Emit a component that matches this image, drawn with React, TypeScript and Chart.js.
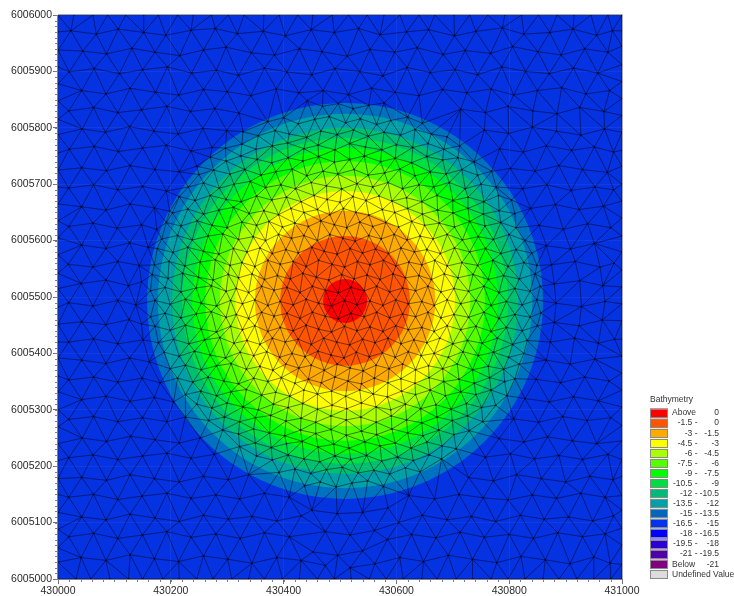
import React, { useEffect, useRef } from "react";
import { Chart, registerables, BubbleController } from "chart.js";

Chart.register(...registerables);

// filled depth contours: the discs stay inside the plot, so they need no layout padding
class ContourBubble extends BubbleController {
  static id = "contourBubble";
  static defaults = { ...(BubbleController as any).defaults };
  static overrides = (BubbleController as any).overrides;
  getMaxOverflow() {
    return false as any;
  }
}
Chart.register(ContourBubble as any);

const originEast = 430000;
const originNorth = 6005000;
const xTickStep = 200;
const yTickStep = 100;
const xMinorStep = 20;
const yMinorStep = 10;

const moundEast = 430509;
const moundNorth = 6005493;
const surroundColour = "#0533e2";
const plotSide = 564;
// outermost first: outer radius of each depth band, metres
const bandRadius = [351, 332, 307, 289, 271, 248, 222, 195, 160, 115, 39];
const bandColour = ["#0070c0", "#00a0a8", "#00c070", "#00e044", "#00ff00", "#55ff00", "#aaff00", "#ffff00", "#ffaa00", "#ff5500", "#ff0000"];

const legendTitle = "Bathymetry";
const legendFrom = ["Above", "-1.5 -", "-3 -", "-4.5 -", "-6 -", "-7.5 -", "-9 -", "-10.5 -", "-12 -", "-13.5 -", "-15 -", "-16.5 -", "-18 -", "-19.5 -", "-21 -", "Below", "Undefined Value"];
const legendTo = ["0", "0", "-1.5", "-3", "-4.5", "-6", "-7.5", "-9", "-10.5", "-12", "-13.5", "-15", "-16.5", "-18", "-19.5", "-21", ""];
const legendColour = ["#ff0000", "#ff5500", "#ffaa00", "#ffff00", "#aaff00", "#55ff00", "#00ff00", "#00dd44", "#00bb77", "#00a0a8", "#0066c0", "#0033ee", "#0000ff", "#2a00d0", "#5000aa", "#800080", "#dcdcdc"];

// boundary nodes along each side, metres from the corner
const edgeTop = [0, 28, 62, 88, 120, 152, 178, 212, 240, 272, 302, 330, 365, 392, 425, 452, 486, 515, 548, 578, 606, 640, 668, 702, 730, 762, 792, 822, 852, 885, 915, 945, 975, 1000];
const edgeBottom = [0, 32, 58, 92, 125, 150, 186, 215, 246, 275, 308, 338, 366, 398, 428, 460, 490, 520, 552, 582, 612, 645, 672, 706, 735, 768, 798, 828, 860, 888, 920, 950, 980, 1000];
const edgeLeft = [30, 55, 88, 118, 150, 178, 210, 240, 270, 300, 332, 360, 392, 420, 452, 482, 515, 542, 575, 605, 635, 665, 695, 725, 755, 788, 815, 848, 878, 908, 938, 970];
const edgeRight = [26, 60, 90, 122, 148, 182, 212, 245, 272, 305, 335, 365, 395, 425, 458, 488, 518, 548, 580, 608, 640, 670, 700, 732, 760, 792, 822, 852, 882, 912, 945, 972];

// interior mesh nodes as east,north pairs, metres from the lower-left corner
const meshOuter = [
23,972,68,966,107,975,152,969,191,964,236,973,279,976,318,967,364,971,403,963,449,974,490,969,533,976,571,965,618,970,657,974,703,963,741,971,788,977,826,966,872,969,913,975,955,964,983,972,
44,936,86,931,131,941,172,934,216,928,258,938,298,943,343,933,384,929,428,940,468,935,513,927,553,939,597,934,637,942,683,930,722,937,767,932,806,944,851,935,892,929,934,940,975,934,
20,899,64,905,109,896,150,903,194,908,237,897,281,902,320,893,366,906,406,899,450,894,491,905,535,900,576,892,619,907,660,898,704,903,744,894,787,908,829,900,871,896,914,906,957,897,
42,866,85,860,128,870,173,863,214,858,258,868,300,864,342,857,387,869,427,862,470,866,515,859,556,870,598,863,640,857,682,868,725,862,768,869,808,858,850,866,893,871,936,860,978,866,
19,830,63,836,106,827,148,832,193,838,235,829,278,834,321,826,714,833,758,827,798,838,842,830,885,825,925,836,968,829,
43,798,84,792,127,802,170,794,213,789,257,799,299,795,756,796,799,790,841,801,884,794,927,787,969,798,
20,762,64,767,107,758,150,764,192,769,236,759,273,765,783,763,825,757,866,768,911,760,951,766,985,757,
42,729,86,724,128,733,172,726,215,722,246,732,802,728,846,723,888,733,930,726,974,721,
19,693,63,699,106,690,150,696,192,688,824,692,867,699,910,689,952,695,985,690,
42,660,85,654,128,665,171,658,198,652,838,657,882,664,924,655,967,661,
19,625,62,631,105,622,148,628,175,620,853,627,896,620,939,630,980,623,
42,592,85,586,127,596,160,588,866,591,909,585,951,595,
18,558,62,553,106,563,144,556,875,557,917,563,961,553,986,560,
41,524,85,530,125,520,148,527,880,523,925,529,966,520,
19,490,62,484,106,494,138,486,883,489,928,483,970,492,
42,456,85,451,126,460,148,452,880,455,924,449,965,459,
19,420,63,426,106,417,151,424,873,420,916,427,958,418,987,425,
42,388,85,382,127,392,162,385,866,388,908,381,952,390,
19,353,63,358,106,349,149,356,181,348,848,354,891,348,934,358,977,351,
42,318,85,324,128,315,171,322,205,314,828,320,871,314,914,323,958,316,
19,283,63,288,106,279,150,286,193,279,226,287,808,284,852,278,895,288,938,281,980,286,
43,250,86,244,129,253,172,247,215,241,252,250,782,249,826,243,868,252,912,245,955,240,
19,215,62,220,106,212,150,218,193,223,236,214,277,221,758,216,802,222,845,213,888,219,930,212,975,221,
42,180,86,175,128,185,171,178,215,172,258,182,302,176,338,185,728,180,772,174,813,185,857,178,900,172,943,182,984,176,
19,145,63,150,106,141,149,147,193,152,236,143,280,149,322,142,366,152,410,145,450,122,495,116,540,118,585,126,622,148,668,142,711,150,754,144,798,140,841,149,884,143,927,152,970,145,
42,110,85,105,128,115,172,108,215,102,258,113,302,106,344,111,388,103,431,112,474,84,518,78,561,86,604,100,646,113,690,105,733,111,776,102,820,113,862,106,905,110,948,103,985,112,
19,75,63,81,106,72,150,78,193,84,236,74,280,80,323,72,366,82,410,75,452,48,496,42,540,50,584,70,627,79,670,73,713,83,756,74,800,79,843,72,886,82,930,75,970,80,
41,38,85,33,128,43,171,36,214,31,258,41,301,35,344,28,388,38,431,33,474,24,518,20,562,27,606,38,648,31,692,42,735,35,778,29,821,40,864,34,908,27,950,39,979,28,
];

const meshInner = [
442,848,469,838,497,843,523,834,551,840,578,844,
372,811,400,818,426,807,455,815,481,820,510,809,536,816,565,806,590,813,620,819,646,808,
328,793,355,786,385,795,410,789,441,783,466,794,495,788,524,796,550,785,578,792,607,787,633,797,662,789,690,784,
297,764,326,771,351,762,380,768,407,773,436,763,461,769,491,761,517,772,545,766,574,761,600,770,629,765,656,772,684,762,712,768,
270,748,298,741,324,750,353,744,379,738,408,747,434,741,462,749,490,739,517,744,543,750,572,740,598,746,627,738,654,749,682,743,709,747,738,740,
250,717,276,725,305,718,331,726,360,716,386,722,415,727,441,715,470,723,496,718,525,726,550,716,579,720,606,727,633,715,660,722,688,718,716,726,744,716,769,723,
231,695,258,702,286,693,312,700,341,705,368,694,395,699,421,692,449,703,476,697,503,692,530,701,558,695,585,703,611,692,640,699,666,695,694,703,722,692,750,700,777,695,
215,678,243,671,270,680,298,673,325,669,352,679,379,672,405,677,431,669,454,680,477,673,500,668,523,678,546,671,569,679,592,670,618,676,645,669,672,680,700,671,727,677,755,669,781,680,804,672,
203,649,230,656,258,647,285,654,311,659,339,648,365,653,391,646,413,657,436,650,460,655,482,646,506,657,528,650,551,645,575,655,597,650,620,657,646,647,673,654,700,649,727,657,754,647,782,653,810,648,
192,632,218,626,247,635,273,627,300,623,326,633,352,627,374,634,398,624,420,631,444,625,466,635,490,628,512,623,535,633,558,625,581,632,604,624,627,634,650,627,676,631,703,624,730,634,757,626,785,632,812,623,
184,603,212,609,238,601,266,608,292,612,320,602,346,607,368,600,391,611,414,604,436,609,460,600,482,611,505,604,527,599,551,609,573,603,596,611,619,601,642,608,665,603,690,611,717,601,745,607,772,602,800,611,828,600,
176,586,204,579,230,588,258,581,285,576,311,586,335,580,358,587,380,577,404,584,426,578,450,588,472,581,495,576,518,586,540,578,563,585,586,577,608,587,632,580,654,584,678,577,703,587,730,580,758,586,785,577,812,584,840,578,
171,557,197,563,225,555,252,562,279,566,305,556,326,561,349,554,372,565,394,558,417,563,440,554,462,565,486,558,508,553,531,563,553,557,577,565,599,555,622,562,645,557,668,565,690,555,716,561,744,556,771,565,798,554,826,561,849,556,
167,540,195,533,221,542,249,535,275,530,302,540,320,534,344,541,366,531,389,538,412,532,434,542,458,535,480,530,503,540,525,532,548,539,571,531,594,541,616,534,640,538,662,531,685,541,709,534,736,540,763,531,790,538,818,532,846,541,
164,511,190,517,218,509,245,516,272,520,298,510,316,515,338,508,361,519,383,512,406,517,429,508,451,519,474,512,497,507,519,517,543,511,565,519,588,509,611,516,634,511,656,519,679,509,702,515,728,510,755,519,782,508,810,515,837,510,855,519,
172,494,199,487,226,496,254,489,281,484,306,494,327,488,349,495,372,485,394,492,417,486,440,496,462,489,485,484,508,494,530,486,553,493,576,485,599,495,621,488,645,492,667,485,690,495,714,488,741,494,768,485,795,492,823,486,849,495,
164,465,190,471,218,463,245,470,272,474,298,464,316,469,338,462,361,473,383,466,406,471,429,462,451,473,474,466,497,461,519,471,543,465,565,473,588,463,611,470,634,465,656,473,679,463,702,469,728,464,755,473,782,462,810,469,837,464,856,472,
172,448,199,441,226,450,254,443,281,438,306,448,327,442,349,449,372,439,394,446,417,440,440,450,462,443,485,438,508,448,530,440,553,447,576,439,599,449,621,442,645,446,667,439,690,449,714,442,741,448,768,439,795,446,823,440,850,449,
178,419,205,425,232,417,260,424,287,428,312,418,335,423,358,416,380,427,403,420,426,425,449,416,471,427,494,420,517,415,540,425,562,419,585,427,608,417,631,424,654,419,677,427,700,417,726,423,752,418,779,427,806,416,832,423,
188,402,215,395,242,404,270,397,297,392,323,402,347,396,370,403,393,393,415,400,438,394,461,404,484,397,507,392,529,402,552,394,575,401,598,393,621,403,644,396,667,400,692,393,718,403,745,396,772,402,799,393,826,400,
199,373,226,379,254,371,281,378,307,382,334,372,358,377,381,370,404,381,427,374,449,379,472,370,495,381,518,374,541,369,564,379,587,373,611,381,634,371,657,378,682,373,708,381,735,371,763,377,790,372,818,381,
212,356,239,349,266,358,294,351,320,346,347,356,372,350,396,357,420,347,444,354,467,348,491,358,514,351,538,346,561,356,585,348,608,355,633,347,658,357,684,350,711,354,738,347,765,357,792,350,810,355,
226,327,253,333,281,325,307,332,334,336,361,326,386,331,411,324,436,335,460,328,485,333,510,324,535,335,559,328,584,323,609,333,634,327,660,335,687,325,714,332,741,327,768,335,796,325,
246,310,273,303,300,312,328,305,355,300,382,310,408,304,434,311,460,301,486,308,512,302,538,312,564,305,590,300,616,310,643,302,670,309,697,301,724,311,751,304,776,308,
267,281,295,287,322,279,350,286,377,290,404,280,431,285,457,278,484,289,511,282,537,287,564,278,591,289,618,282,645,277,672,287,699,281,726,289,753,279,
292,264,320,257,347,266,375,259,402,254,430,264,457,258,484,265,511,255,538,262,565,256,592,266,620,259,647,254,675,264,702,256,729,263,
322,235,350,241,378,233,405,240,433,244,461,234,489,239,516,232,544,243,571,236,598,241,626,232,654,243,681,236,706,231,
352,218,380,211,408,220,436,213,464,208,491,218,519,212,547,219,574,209,602,216,630,210,658,220,680,213,
392,189,420,195,448,187,476,194,504,198,532,188,560,193,588,186,616,197,642,190,
437,165,465,172,493,163,521,170,549,174,577,164,
];

const TICK_FONT = { family: "'Liberation Sans', Arial, sans-serif", size: 10.5 };
const LEGEND_FONT = "8.5px 'Liberation Sans', Arial, sans-serif";

type Pt = { x: number; y: number };

function buildNodes(): Pt[] {
  const nodes: Pt[] = [];
  edgeTop.forEach((v) => nodes.push({ x: v, y: 1000 }));
  edgeBottom.forEach((v) => nodes.push({ x: v, y: 0 }));
  edgeLeft.forEach((v) => nodes.push({ x: 0, y: v }));
  edgeRight.forEach((v) => nodes.push({ x: 1000, y: v }));
  const inner = meshOuter.concat(meshInner);
  for (let i = 0; i + 1 < inner.length; i += 2) nodes.push({ x: inner[i], y: inner[i + 1] });
  return nodes;
}

// Delaunay edges of the node list (Bowyer-Watson)
function meshEdges(nodes: Pt[]): [number, number][] {
  const pts = nodes.concat([{ x: -20000, y: -20000 }, { x: 30000, y: -20000 }, { x: 500, y: 40000 }]);
  const n = nodes.length;
  const circ = (a: number, b: number, c: number) => {
    const A = pts[a], B = pts[b], C = pts[c];
    const d = 2 * (A.x * (B.y - C.y) + B.x * (C.y - A.y) + C.x * (A.y - B.y));
    if (Math.abs(d) < 1e-9) return null;
    const a2 = A.x * A.x + A.y * A.y, b2 = B.x * B.x + B.y * B.y, c2 = C.x * C.x + C.y * C.y;
    const ux = (a2 * (B.y - C.y) + b2 * (C.y - A.y) + c2 * (A.y - B.y)) / d;
    const uy = (a2 * (C.x - B.x) + b2 * (A.x - C.x) + c2 * (B.x - A.x)) / d;
    return { a, b, c, ux, uy, r2: (A.x - ux) ** 2 + (A.y - uy) ** 2 };
  };
  let tris: any[] = [circ(n, n + 1, n + 2)];
  for (let i = 0; i < n; i++) {
    const p = pts[i];
    const keep: any[] = [];
    const open = new Map<string, [number, number]>();
    for (const t of tris) {
      if ((p.x - t.ux) ** 2 + (p.y - t.uy) ** 2 < t.r2) {
        for (const [u, v] of [[t.a, t.b], [t.b, t.c], [t.c, t.a]]) {
          const k = u < v ? u + "_" + v : v + "_" + u;
          if (open.has(k)) open.delete(k);
          else open.set(k, [u, v]);
        }
      } else keep.push(t);
    }
    open.forEach(([u, v]) => {
      const t = circ(u, v, i);
      if (t) keep.push(t);
    });
    tris = keep;
  }
  const seen = new Map<string, [number, number]>();
  for (const t of tris) {
    if (t.a >= n || t.b >= n || t.c >= n) continue;
    for (const [u, v] of [[t.a, t.b], [t.b, t.c], [t.c, t.a]]) {
      seen.set(u < v ? u + "_" + v : v + "_" + u, [u, v]);
    }
  }
  return Array.from(seen.values());
}

export default function App() {
  const ref = useRef<HTMLCanvasElement>(null);
  useEffect(() => {
    const nodes = buildNodes();
    const edges = meshEdges(nodes);
    const toData = (p: Pt) => ({ x: originEast + p.x, y: originNorth + p.y });
    const lineData: any[] = [];
    edges.forEach(([u, v]) => {
      lineData.push(toData(nodes[u]), toData(nodes[v]), { x: NaN, y: NaN });
    });

    const bands: any[] = bandRadius.map((r, i) => ({
      type: "contourBubble",
      order: 100 - i,
      data: [{ x: moundEast, y: moundNorth, r: (r * plotSide) / 1000 }],
      backgroundColor: bandColour[i],
      hoverBackgroundColor: bandColour[i],
      borderWidth: 0,
      hoverBorderWidth: 0,
      hoverRadius: 0,
    }));

    const surveyPlugin = {
      id: "survey",
      beforeDatasetsDraw(chart: any) {
        const { ctx, chartArea: a } = chart;
        ctx.save();
        ctx.fillStyle = surroundColour;
        ctx.fillRect(a.left, a.top, a.right - a.left, a.bottom - a.top);
        ctx.restore();
      },
      afterDraw(chart: any) {
        const { ctx, chartArea: a, scales } = chart;
        ctx.save();
        ctx.lineWidth = 1;
        ctx.strokeStyle = "#a8a8a8";
        ctx.beginPath();
        ctx.moveTo(a.left, a.top - 0.5);
        ctx.lineTo(a.right + 0.5, a.top - 0.5);
        ctx.lineTo(a.right + 0.5, a.bottom);
        ctx.stroke();
        ctx.strokeStyle = "#808080";
        ctx.beginPath();
        ctx.moveTo(a.left - 0.5, a.top);
        ctx.lineTo(a.left - 0.5, a.bottom + 0.5);
        ctx.lineTo(a.right, a.bottom + 0.5);
        for (let v = originEast; v <= originEast + 1000; v += xMinorStep) {
          const px = Math.round(scales.x.getPixelForValue(v)) + 0.5;
          ctx.moveTo(px, a.bottom);
          ctx.lineTo(px, a.bottom + 3);
        }
        for (let v = originNorth; v <= originNorth + 1000; v += yMinorStep) {
          const py = Math.round(scales.y.getPixelForValue(v)) + 0.5;
          ctx.moveTo(a.left, py);
          ctx.lineTo(a.left - 3, py);
        }
        ctx.stroke();

        // depth legend
        ctx.font = LEGEND_FONT;
        ctx.textBaseline = "middle";
        ctx.fillStyle = "#333";
        ctx.textAlign = "left";
        ctx.fillText(legendTitle, 650, 400);
        legendFrom.forEach((from, i) => {
          const cy = 413 + i * 10.08;
          ctx.fillStyle = legendColour[i];
          ctx.fillRect(650, cy - 4.5, 18, 9);
          ctx.strokeStyle = "#8a8a8a";
          ctx.strokeRect(650.5, Math.round(cy - 4.5) + 0.5, 17, 8);
          ctx.fillStyle = "#333";
          if (i === 0 || i >= legendFrom.length - 2) {
            ctx.textAlign = "left";
            ctx.fillText(from, 672, cy);
          } else {
            ctx.textAlign = "right";
            ctx.fillText(from, 697.5, cy);
          }
          if (legendTo[i]) {
            ctx.textAlign = "right";
            ctx.fillText(legendTo[i], 719, cy);
          }
        });
        ctx.restore();
      },
    };

    const chart = new Chart(ref.current as HTMLCanvasElement, {
      type: "scatter",
      plugins: [surveyPlugin],
      data: {
        datasets: [
          ...bands,
          {
            type: "scatter",
            order: 2,
            data: lineData,
            showLine: true,
            spanGaps: false,
            pointRadius: 0,
            borderColor: "rgba(0,0,25,0.5)",
            borderWidth: 1,
            borderDash: [1000, 0],
          },
          {
            type: "scatter",
            order: 1,
            data: nodes.map(toData),
            pointRadius: 1,
            borderWidth: 0,
            backgroundColor: "rgba(0,0,20,0.6)",
          },
        ],
      } as any,
      options: {
        responsive: false,
        animation: false,
        layout: { padding: { left: 0, top: 15, right: 112, bottom: 0 } },
        plugins: { legend: { display: false }, tooltip: { enabled: false } },
        scales: {
          x: {
            type: "linear",
            min: originEast,
            max: originEast + 1000,
            afterFit: (s: any) => { s.height = 17; },
            grid: { z: 1, color: "rgba(190,190,210,0.07)", tickColor: "#707070", tickLength: 5 },
            border: { display: false },
            ticks: {
              stepSize: xTickStep,
              autoSkip: false,
              maxRotation: 0,
              padding: 1,
              color: "#2a2a2a",
              font: TICK_FONT,
              callback: (v: any) => String(v),
            },
          },
          y: {
            type: "linear",
            min: originNorth,
            max: originNorth + 1000,
            afterFit: (s: any) => { s.width = 58; },
            grid: { z: 1, color: "rgba(190,190,210,0.07)", tickColor: "#707070", tickLength: 5 },
            border: { display: false },
            ticks: {
              stepSize: yTickStep,
              autoSkip: false,
              padding: 1,
              color: "#2a2a2a",
              font: TICK_FONT,
              callback: (v: any) => String(v),
            },
          },
        },
      } as any,
    });
    return () => chart.destroy();
  }, []);
  return (
    <div style={{ position: "fixed", left: 0, top: 0, width: 734, height: 596, background: "#fff" }}>
      <canvas ref={ref} width={734} height={596} style={{ display: "block", filter: "blur(0.6px)" }} />
    </div>
  );
}
